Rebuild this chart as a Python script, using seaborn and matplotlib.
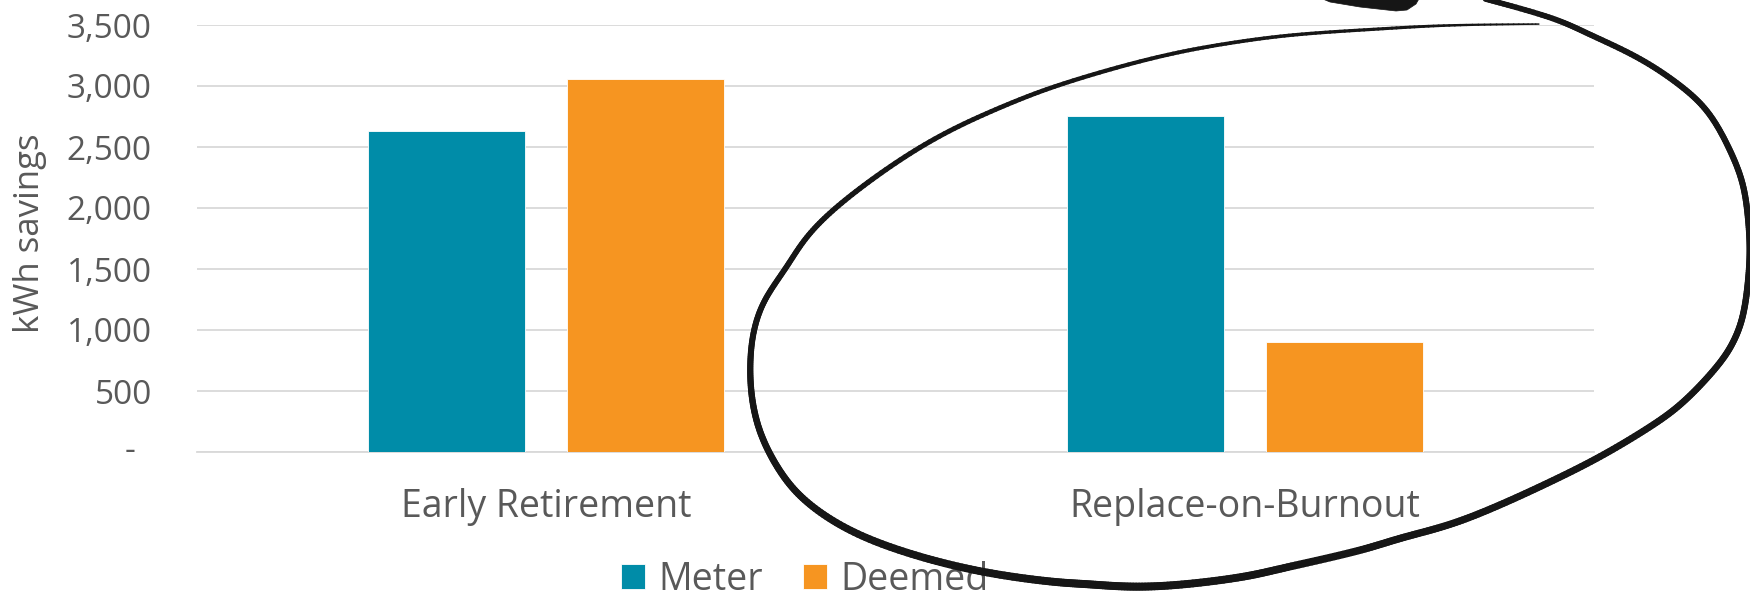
import numpy as np
import pandas as pd
import seaborn as sns
import matplotlib.pyplot as plt
from matplotlib.collections import LineCollection
from matplotlib.patches import Polygon

# --- data -------------------------------------------------------------
categories = ["Early Retirement", "Replace-on-Burnout"]
series_names = ["Meter", "Deemed"]
meter_kwh = [2630, 2757]
deemed_kwh = [3060, 904]
y_ticks = [0, 500, 1000, 1500, 2000, 2500, 3000, 3500]
y_tick_labels = ["", "500", "1,000", "1,500", "2,000", "2,500", "3,000", "3,500"]

df = pd.DataFrame({
    "category": categories * 2,
    "series": [series_names[0]] * 2 + [series_names[1]] * 2,
    "kwh": meter_kwh + deemed_kwh,
})

TEAL = "#008CA8"
ORANGE = "#F69521"
TEXT = "#595959"
GRID = "#D9D9D9"
INK = "#161616"

sns.set_theme(style="white")
plt.rcParams["font.family"] = ["Open Sans", "DejaVu Sans"]

W, H = 1750, 599
fig = plt.figure(figsize=(W / 100, H / 100), dpi=100)
ax = fig.add_axes([197 / W, 1 - 452 / H, (1594 - 197) / W, (452 - 25) / H])

sns.barplot(data=df, x="category", y="kwh", hue="series", order=categories,
            hue_order=series_names, palette=[TEAL, ORANGE], saturation=1,
            width=0.569, gap=0.211, edgecolor="white", linewidth=0.6,
            legend=True, ax=ax, zorder=3)

ax.set_xlim(-0.5, 1.5)
ax.set_ylim(0, 3500)
ax.set_yticks(y_ticks)
ax.set_yticklabels(y_tick_labels)
ax.yaxis.grid(True, color=GRID, linewidth=1.3, zorder=0)
ax.set_axisbelow(True)
for side in ["left", "right", "top"]:
    ax.spines[side].set_visible(False)
ax.spines["bottom"].set_color(GRID)
ax.spines["bottom"].set_linewidth(1.3)
ax.tick_params(axis="y", length=0, pad=32.5, labelsize=24, labelcolor=TEXT)
ax.tick_params(axis="x", length=0, pad=26, labelsize=27, labelcolor=TEXT)

# accounting-style dash for zero
ax.text(-62 / (1594 - 197), 0, "-", transform=ax.get_yaxis_transform(),
        ha="right", va="center", fontsize=24, color=TEXT)

ax.set_xlabel("")
ax.set_ylabel("kWh savings", fontsize=25, color=TEXT)
ax.yaxis.label.set_va("center")
ax.yaxis.set_label_coords((30 - 197) / (1594 - 197), (452 - 233) / 427)

# legend below the plot
handles, labels = ax.get_legend_handles_labels()
ax.get_legend().remove()
fig.legend(handles, labels, loc="center", bbox_to_anchor=(805 / W, 1 - 580 / H),
           ncol=2, frameon=False, fontsize=27, labelcolor=TEXT,
           handlelength=0.64, handleheight=0.64, handletextpad=0.35,
           columnspacing=1.07, borderpad=0, borderaxespad=0)


# --- hand-drawn circle around the Replace-on-Burnout group -------------
def px(points):
    p = np.asarray(points, dtype=float)
    return np.column_stack([p[:, 0] / W, 1 - p[:, 1] / H])


def catmull_rom(points, n=16):
    p = np.asarray(points, dtype=float)
    p = np.vstack([p[0], p, p[-1]])
    out = []
    for i in range(1, len(p) - 2):
        p0, p1, p2, p3 = p[i - 1], p[i], p[i + 1], p[i + 2]
        t = np.linspace(0, 1, n, endpoint=False)[:, None]
        out.append(0.5 * ((2 * p1) + (-p0 + p2) * t
                          + (2 * p0 - 5 * p1 + 4 * p2 - p3) * t ** 2
                          + (-p0 + 3 * p1 - 3 * p2 + p3) * t ** 3))
    out.append(p[-2][None, :])
    return np.vstack(out)


def smooth(curve, k=31):
    # gaussian running mean along the stroke, ends held in place
    g = np.exp(-0.5 * (np.arange(k) - k // 2) ** 2 / (k / 5) ** 2)
    g /= g.sum()
    padded = np.vstack([np.repeat(curve[:1], k // 2, 0), curve,
                        np.repeat(curve[-1:], k // 2, 0)])
    return np.column_stack([np.convolve(padded[:, i], g, mode="valid")
                            for i in range(2)])


stroke = [(1474, -4), (1551, 17), (1586, 33), (1638, 57), (1680, 85),
          (1709, 112), (1730, 150), (1743, 183), (1748, 217), (1750, 250),
          (1748, 283), (1743, 317), (1733, 343), (1717, 367), (1683, 403),
          (1650, 427), (1600, 457), (1550, 482), (1500, 505), (1450, 525),
          (1400, 538), (1359, 551), (1283, 568), (1244, 577), (1180, 585),
          (1130, 587), (1087, 584), (1053, 582), (987, 573), (920, 557),
          (853, 533), (803, 500), (777, 467), (760, 433), (752, 400),
          (750, 367), (753, 333), (764, 300), (787, 267), (809, 233),
          (853, 193), (930, 140), (1006, 105), (1064, 83), (1159, 56),
          (1236, 42), (1300, 34), (1380, 29), (1450, 25), (1552, 24)]

curve = smooth(catmull_rom(stroke))
seg_len = np.hypot(*np.diff(curve, axis=0).T)
frac = np.concatenate([[0], np.cumsum(seg_len)])
frac = (frac[:-1] + frac[1:]) / 2 / frac[-1]
# pen pressure along the stroke (pixels)
widths = np.interp(frac, [0, 0.1, 0.3, 0.45, 0.55, 0.65, 0.75, 0.85, 0.95, 1],
                   [5.5, 6, 7, 8, 7.5, 6, 5, 4, 3, 1.5])
xy = px(curve)
segs = np.stack([xy[:-1], xy[1:]], axis=1)
lc = LineCollection(segs, linewidths=widths * 0.72, colors=INK,
                    capstyle="round", joinstyle="round",
                    transform=fig.transFigure, zorder=10)
fig.add_artist(lc)

# tip of the arrow stroke entering from the top edge
tip = Polygon(px([(1318, -3), (1420, -3), (1416, 4), (1407, 10), (1396, 11),
                  (1360, 7), (1330, 2)]), closed=True, facecolor=INK,
              edgecolor=INK, linewidth=0.5, transform=fig.transFigure,
              zorder=10)
fig.add_artist(tip)

fig.savefig("out.png", dpi=100)
